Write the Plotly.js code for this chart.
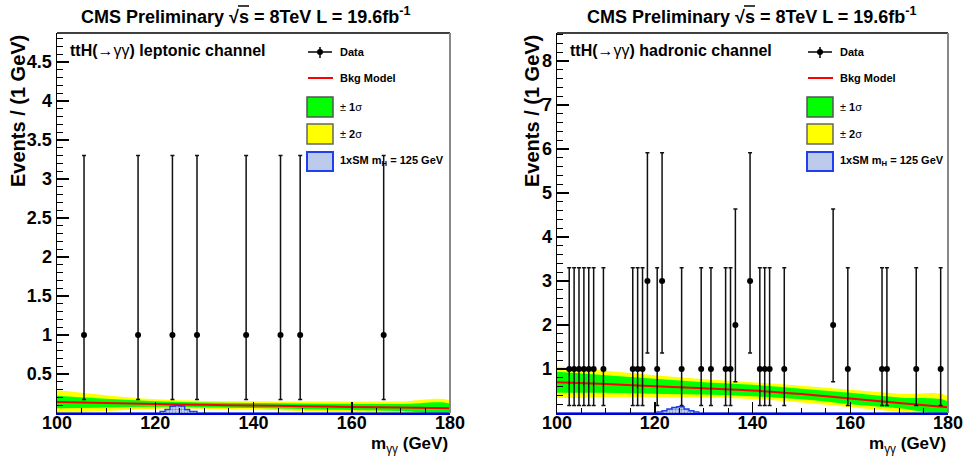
<!DOCTYPE html>
<html>
<head>
<meta charset="utf-8">
<script src="https://cdn.plot.ly/plotly-3.0.1.min.js"></script>
<style>html,body{margin:0;padding:0;background:#fff;}</style>
</head>
<body>
<div id="chart" style="width:963px;height:456px;"></div>
<script>
// ---------------- data ----------------
const xTicks = [100, 120, 140, 160, 180];
const yTicksLeft = [0.5, 1, 1.5, 2, 2.5, 3, 3.5, 4, 4.5];
const yTicksRight = [1, 2, 3, 4, 5, 6, 7, 8];

// observed events (1 GeV bins)
const lepX = [105.5, 116.5, 123.5, 128.5, 138.5, 145.5, 149.5, 166.5];
const lepN = [1, 1, 1, 1, 1, 1, 1, 1];
const hadX = [102.5, 103.5, 104.5, 105.5, 106.5, 107.5, 109.5, 115.5, 116.5, 117.5,
              118.5, 120.5, 121.5, 125.5, 129.5, 131.5, 134.5, 135.5, 136.5, 139.5,
              141.5, 142.5, 143.5, 146.5, 156.5, 159.5, 166.5, 167.5, 173.5, 178.5];
const hadN = [1, 1, 1, 1, 1, 1, 1, 1, 1, 1,
              3, 1, 3, 1, 1, 1, 1, 1, 2, 3,
              1, 1, 1, 1, 2, 1, 1, 1, 1, 1];
// Poisson interval (lower / upper distance) per count
const poisLo = {1: 0.827, 2: 1.292, 3: 1.633};
const poisHi = {1: 2.300, 2: 2.638, 3: 2.918};

// background model and bands
const bkgX = [100, 110, 120, 130, 140, 150, 160, 170, 180];
const lepBkg = [0.140, 0.127, 0.115, 0.105, 0.096, 0.087, 0.078, 0.070, 0.062];
const lepS1  = [0.080, 0.055, 0.035, 0.030, 0.032, 0.036, 0.040, 0.045, 0.050];
const lepS2  = [0.150, 0.100, 0.060, 0.050, 0.055, 0.060, 0.068, 0.078, 0.090];
const hadBkg = [0.70, 0.66, 0.61, 0.56, 0.51, 0.43, 0.33, 0.23, 0.13];
const hadS1  = [0.24, 0.20, 0.17, 0.14, 0.13, 0.12, 0.13, 0.12, 0.12];
const hadS2  = [0.36, 0.30, 0.25, 0.21, 0.19, 0.19, 0.20, 0.21, 0.24];

// SM signal histogram (bin edges / contents)
const lepSigX = [100, 121, 122, 123, 124, 125, 126, 127, 128.5, 180];
const lepSigY = [0, 0.02, 0.045, 0.085, 0.095, 0.09, 0.045, 0.02, 0, 0];
const hadSigX = [100, 120.5, 121.5, 122.5, 123.5, 124.5, 126, 127, 128, 129, 180];
const hadSigY = [0, 0.02, 0.05, 0.09, 0.125, 0.14, 0.09, 0.05, 0.02, 0, 0];

// ---------------- helpers ----------------
const W = 963, H = 456;
const fx = p => p / W, fy = p => 1 - p / H;
const FONT = 'Liberation Sans, Arial, Helvetica, sans-serif';

function band(xs, c, s, color, xa, ya) {
  const up = xs.map((x, i) => c[i] + s[i]);
  const dn = xs.map((x, i) => c[i] - s[i]);
  return {x: xs.concat(xs.slice().reverse()), y: up.concat(dn.reverse()),
          xaxis: xa, yaxis: ya, type: 'scatter', mode: 'lines', fill: 'toself',
          fillcolor: color, line: {width: 0, color: color, shape: 'spline'}, hoverinfo: 'skip'};
}
function line(xs, c, xa, ya) {
  return {x: xs, y: c, xaxis: xa, yaxis: ya, type: 'scatter', mode: 'lines',
          line: {color: '#ff0000', width: 2, shape: 'spline'}};
}
function sig(xs, ys, xa, ya) {
  return {x: xs, y: ys, xaxis: xa, yaxis: ya, type: 'scatter', mode: 'lines',
          line: {color: '#1f3fe0', width: 1.5, shape: 'hv'}, fill: 'tozeroy',
          fillcolor: '#c3cfee',
          fillpattern: {shape: '.', bgcolor: '#c8d3ef', fgcolor: '#6a80cc', size: 3, solidity: 0.4}};
}
function data(xs, ns, xa, ya) {
  return {x: xs, y: ns, xaxis: xa, yaxis: ya, type: 'scatter', mode: 'markers',
          marker: {color: 'black', size: 6},
          error_y: {type: 'data', symmetric: false,
                    array: ns.map(n => poisHi[n]), arrayminus: ns.map(n => poisLo[n]),
                    color: '#111', thickness: 1.5, width: 2}};
}

const traces = [
  band(bkgX, lepBkg, lepS2, '#ffff00', 'x', 'y'),
  band(bkgX, lepBkg, lepS1, '#00ff00', 'x', 'y'),
  line(bkgX, lepBkg, 'x', 'y'),
  sig(lepSigX, lepSigY, 'x', 'y'),
  data(lepX, lepN, 'x', 'y'),
  band(bkgX, hadBkg, hadS2, '#ffff00', 'x2', 'y2'),
  band(bkgX, hadBkg, hadS1, '#00ff00', 'x2', 'y2'),
  line(bkgX, hadBkg, 'x2', 'y2'),
  sig(hadSigX, hadSigY, 'x2', 'y2'),
  data(hadX, hadN, 'x2', 'y2')
];

function xax(d0, d1, anchor) {
  return {domain: [fx(d0), fx(d1)], range: [100, 180], anchor: anchor,
          tickmode: 'array', tickvals: xTicks, ticks: 'inside', ticklen: 11, tickwidth: 1.5, tickcolor: 'black',
          minor: {tickmode: 'linear', tick0: 100, dtick: 5, ticks: 'inside', ticklen: 5, tickwidth: 1, tickcolor: 'black'},
          showline: true, linecolor: '#0000dd', linewidth: 2, showgrid: false, zeroline: false,
          ticklabeloverflow: 'allow', ticklabelstandoff: -8,
          tickfont: {family: FONT, size: 18, color: 'black', weight: 'bold'}, fixedrange: true};
}
function yax(top, anchor, vals, mdt) {
  return {domain: [fy(413), fy(33)], range: [0, top], anchor: anchor,
          tickmode: 'array', tickvals: vals, ticks: 'inside', ticklen: 12, tickwidth: 1.5, tickcolor: 'black',
          minor: {tickmode: 'linear', tick0: 0, dtick: mdt, ticks: 'inside', ticklen: 6, tickwidth: 1, tickcolor: 'black'},
          showline: true, linecolor: 'black', linewidth: 1.5, showgrid: false, zeroline: false,
          ticklabeloverflow: 'allow',
          tickfont: {family: FONT, size: 18, color: 'black', weight: 'bold'}, fixedrange: true};
}

const shapes = [];
const ann = [];
function panel(off, xL, xR, titleX, chan, yTitleX) {
  // frame top and right
  shapes.push({type: 'line', xref: 'paper', yref: 'paper', x0: fx(xL), x1: fx(xR), y0: fy(33), y1: fy(33), line: {color: 'black', width: 1.5}});
  shapes.push({type: 'line', xref: 'paper', yref: 'paper', x0: fx(xR), x1: fx(xR), y0: fy(33), y1: fy(413), line: {color: '#888', width: 2}});
  // legend symbols
  shapes.push({type: 'line', xref: 'paper', yref: 'paper', x0: fx(308 + off), x1: fx(332 + off), y0: fy(52), y1: fy(52), line: {color: 'black', width: 1.5}});
  shapes.push({type: 'line', xref: 'paper', yref: 'paper', x0: fx(320 + off), x1: fx(320 + off), y0: fy(47), y1: fy(58), line: {color: 'black', width: 1.5}});
  shapes.push({type: 'circle', xref: 'paper', yref: 'paper', x0: fx(317 + off), x1: fx(323 + off), y0: fy(49), y1: fy(55), fillcolor: 'black', line: {color: 'black', width: 0}});
  shapes.push({type: 'line', xref: 'paper', yref: 'paper', x0: fx(308 + off), x1: fx(333 + off), y0: fy(78), y1: fy(78), line: {color: '#ff0000', width: 2}});
  shapes.push({type: 'rect', xref: 'paper', yref: 'paper', x0: fx(307 + off), x1: fx(333 + off), y0: fy(97), y1: fy(117), fillcolor: '#00ff00', line: {color: '#555', width: 1.5}});
  shapes.push({type: 'rect', xref: 'paper', yref: 'paper', x0: fx(307 + off), x1: fx(333 + off), y0: fy(124), y1: fy(144), fillcolor: '#ffff00', line: {color: '#666', width: 1.5}});
  shapes.push({type: 'rect', xref: 'paper', yref: 'paper', x0: fx(307 + off), x1: fx(333 + off), y0: fy(152), y1: fy(171), fillcolor: '#bccaec', line: {color: '#2040f0', width: 2}});
  const lt = (txt, y) => ann.push({xref: 'paper', yref: 'paper', x: fx(338 + off), y: fy(y), xanchor: 'left', yanchor: 'middle',
                                   text: txt, showarrow: false, font: {family: FONT, size: 11, color: 'black'}});
  lt('<b>Data</b>', 52);
  lt('<b>Bkg Model</b>', 78);
  lt('± <b>1</b>σ', 107);
  lt('± <b>2</b>σ', 134);
  lt('<b>1xSM m<sub>H</sub> = 125 GeV</b>', 161);
  // title
  ann.push({xref: 'paper', yref: 'paper', x: fx(titleX), y: fy(15), xanchor: 'center', yanchor: 'middle',
            text: '<b>CMS Preliminary √s = 8TeV L = 19.6fb<sup>-1</sup></b>', showarrow: false,
            font: {family: FONT, size: 18, color: 'black'}});
  // overline of sqrt(s)
  shapes.push({type: 'line', xref: 'paper', yref: 'paper', x0: fx(titleX - 8), x1: fx(titleX + 3), y0: fy(6), y1: fy(6), line: {color: 'black', width: 1.5}});
  // channel label
  ann.push({xref: 'paper', yref: 'paper', x: fx(xL + 11), y: fy(50), xanchor: 'left', yanchor: 'middle',
            text: '<b>ttH(</b>→γγ<b>) ' + chan + ' channel</b>', showarrow: false,
            font: {family: FONT, size: 16, color: 'black'}});
  // y title
  ann.push({xref: 'paper', yref: 'paper', x: fx(yTitleX), y: fy(33), xanchor: 'center', yanchor: 'top', textangle: -90,
            text: '<b>Events / (1 GeV)</b>', showarrow: false, font: {family: FONT, size: 20, color: 'black'}});
  // x title
  ann.push({xref: 'paper', yref: 'paper', x: fx(xR), y: fy(445), xanchor: 'right', yanchor: 'middle',
            text: '<b>m</b><sub>γγ</sub><b> (GeV)</b>', showarrow: false, font: {family: FONT, size: 17, color: 'black'}});
}
panel(0, 57, 450, 246, 'leptonic', 18);
panel(500, 557, 948, 752, 'hadronic', 532);

const layout = {
  width: W, height: H, margin: {l: 0, r: 0, t: 0, b: 0},
  paper_bgcolor: 'white', plot_bgcolor: 'white', showlegend: false,
  xaxis: xax(57, 450, 'y'), yaxis: yax(4.87, 'x', yTicksLeft, 0.1),
  xaxis2: xax(557, 948, 'y2'), yaxis2: yax(8.64, 'x2', yTicksRight, 0.2),
  shapes: shapes, annotations: ann
};
Plotly.newPlot('chart', traces, layout, {displayModeBar: false, staticPlot: true});
</script>
</body>
</html>
